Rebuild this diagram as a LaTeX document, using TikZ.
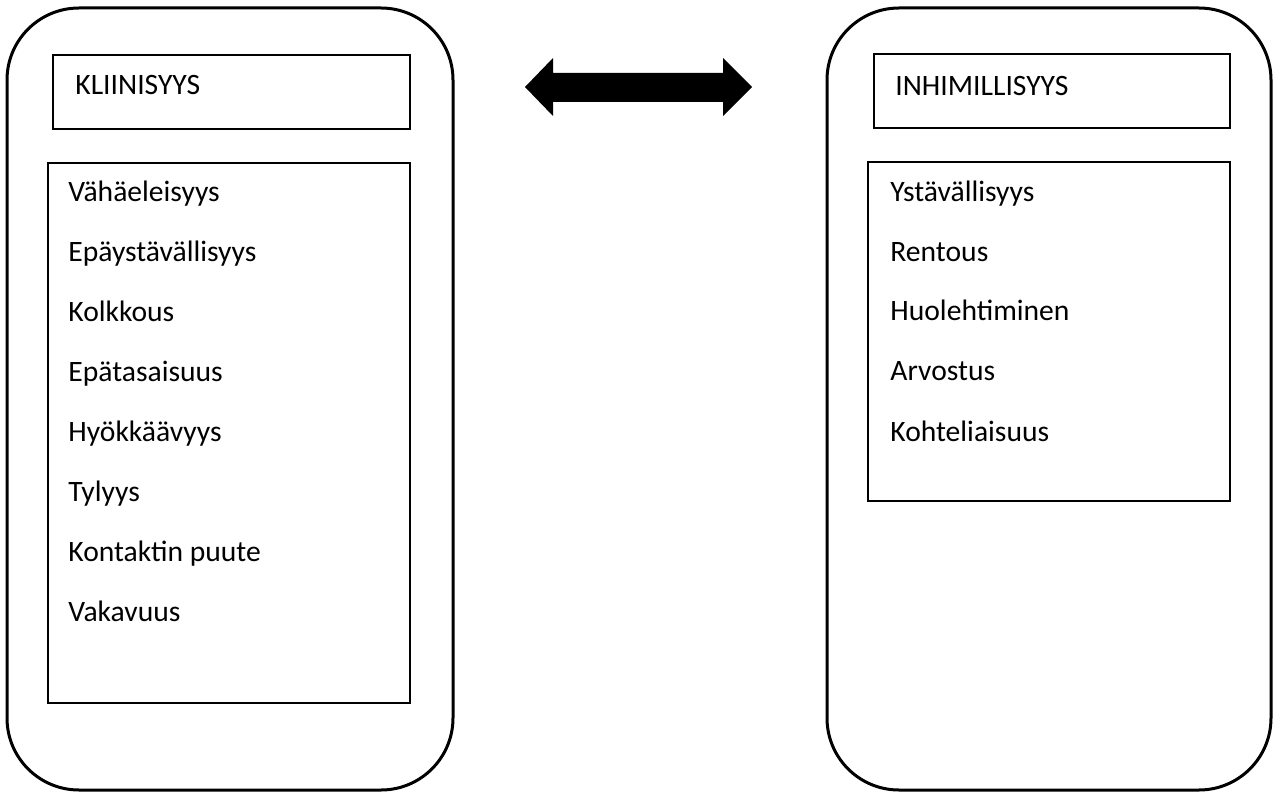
\documentclass[tikz,border=0pt]{standalone}
\usepackage{fontspec}
\setmainfont{Carlito}
\begin{document}
\begin{tikzpicture}[x=0.5pt,y=-0.5pt,
  outerbox/.style={draw=black,line width=1.5pt,rounded corners=36pt,inner sep=0pt,minimum width=#1},
  innerbox/.style={draw=black,line width=0.7pt,inner sep=0pt},
  itemtext/.style={anchor=base west,inner sep=0pt,font=\fontsize{14.8pt}{17pt}\selectfont}]
\useasboundingbox (0,0) rectangle (1275,792);
% outer rounded boxes
\node[outerbox=223pt,minimum height=391pt] (L) at (230,399) {};
\node[outerbox=222pt,minimum height=391pt] (R) at (1049,399) {};
% title boxes
\node[innerbox,minimum width=178.5pt,minimum height=37pt] (LT) at (231.5,92) {};
\node[innerbox,minimum width=178pt,minimum height=37pt] (RT) at (1052,91) {};
% list boxes
\node[innerbox,minimum width=181pt,minimum height=270pt] (LL) at (229,433) {};
\node[innerbox,minimum width=181pt,minimum height=169.5pt] (RL) at (1049,331.5) {};
% titles
\node[itemtext] (lt) at (75,95) {KLIINISYYS};
\node[itemtext] (rt) at (895,96) {INHIMILLISYYS};
% left items
\node[itemtext] (l1) at (68,201.5) {Vähäeleisyys};
\node[itemtext] (l2) at (68,261.5) {Epäystävällisyys};
\node[itemtext] (l3) at (68,321.5) {Kolkkous};
\node[itemtext] (l4) at (68,381.5) {Epätasaisuus};
\node[itemtext] (l5) at (68,441.5) {Hyökkäävyys};
\node[itemtext] (l6) at (68,501.5) {Tylyys};
\node[itemtext] (l7) at (68,561.5) {Kontaktin puute};
\node[itemtext] (l8) at (68,621.5) {Vakavuus};
% right items
\node[itemtext] (r1) at (890,201.5) {Ystävällisyys};
\node[itemtext] (r2) at (890,261) {Rentous};
\node[itemtext] (r3) at (890,320.5) {Huolehtiminen};
\node[itemtext] (r4) at (890,380) {Arvostus};
\node[itemtext] (r5) at (890,441) {Kohteliaisuus};
% double arrow
\fill[black] (525,87) -- (553,58) -- (553,73) -- (723,73) -- (723,58) -- (752,87)
  -- (723,116) -- (723,102) -- (553,102) -- (553,116) -- cycle;
\end{tikzpicture}
\end{document}
